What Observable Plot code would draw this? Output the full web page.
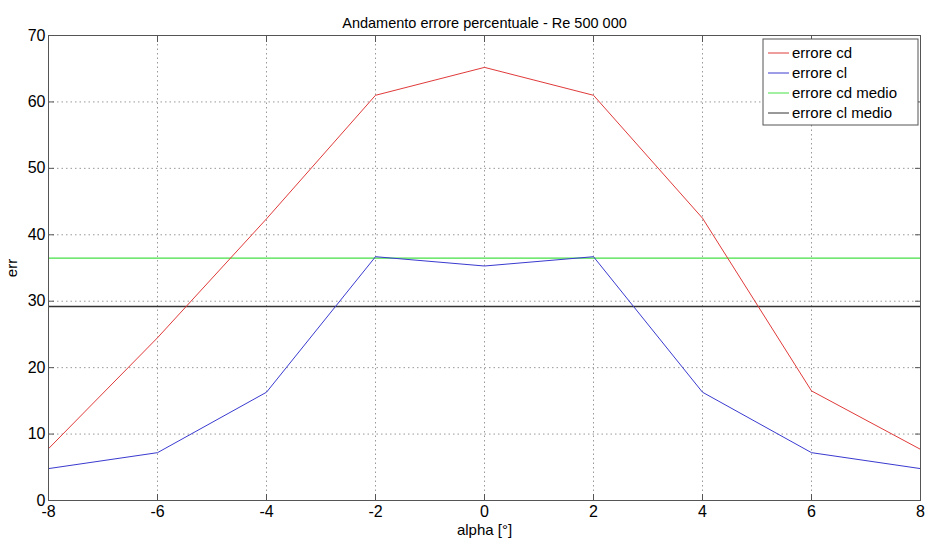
<!DOCTYPE html>
<html><head><meta charset="utf-8">
<script src="https://cdn.jsdelivr.net/npm/d3@7"></script>
<script src="https://cdn.jsdelivr.net/npm/@observablehq/plot@0.6"></script>
<style>body{margin:0;background:#fff;font-family:"Liberation Sans",Arial,sans-serif}</style>
</head><body><div id="chart"></div>
<script>
const alpha = [-8, -6, -4, -2, 0, 2, 4, 6, 8];
const errCd = [7.8, 24.5, 42.4, 61.0, 65.2, 61.0, 42.5, 16.5, 7.7];
const errCl = [4.8, 7.2, 16.3, 36.7, 35.3, 36.7, 16.3, 7.2, 4.8];
const errCdMedio = 36.5;
const errClMedio = 29.2;
const xTicks = [-8, -6, -4, -2, 0, 2, 4, 6, 8];
const yTicks = [0, 10, 20, 30, 40, 50, 60, 70];
const seriesNames = ["errore cd", "errore cl", "errore cd medio", "errore cl medio"];
const seriesColors = ["#e03a3a", "#3a3ad0", "#44e044", "#333333"];

const cd = alpha.map((a, i) => ({alpha: a, err: errCd[i]}));
const cl = alpha.map((a, i) => ({alpha: a, err: errCl[i]}));
const fmt = d => String(d);
const blank = () => "";

const plot = Plot.plot({
  width: 929, height: 544,
  marginLeft: 48, marginRight: 9, marginTop: 35, marginBottom: 44,
  style: {fontFamily: '"Liberation Sans", Arial, sans-serif', background: "#fff"},
  x: {domain: [-8, 8]},
  y: {domain: [0, 70]},
  marks: [
    Plot.gridX(xTicks, {stroke: "#999", strokeOpacity: 1, strokeDasharray: "1.5,3"}),
    Plot.gridY(yTicks, {stroke: "#999", strokeOpacity: 1, strokeDasharray: "1.5,3"}),
    Plot.ruleY([errCdMedio], {stroke: seriesColors[2], strokeWidth: 1.2}),
    Plot.ruleY([errClMedio], {stroke: seriesColors[3], strokeWidth: 1.5}),
    Plot.line(cd, {x: "alpha", y: "err", stroke: seriesColors[0], strokeWidth: 1}),
    Plot.line(cl, {x: "alpha", y: "err", stroke: seriesColors[1], strokeWidth: 1}),
    Plot.frame({stroke: "#555", strokeWidth: 1}),
    Plot.axisX(xTicks, {anchor: "bottom", tickSize: -6, tickPadding: 11, fontSize: 16, tickFormat: fmt, stroke: "#555", label: "alpha [°]", labelAnchor: "center", labelArrow: "none", labelOffset: 34, color: "#000"}),
    Plot.axisX(xTicks, {anchor: "top", tickSize: -6, tickFormat: blank, stroke: "#555", label: null}),
    Plot.axisY(yTicks, {anchor: "left", tickSize: -6, tickPadding: 9, fontSize: 16, tickFormat: fmt, stroke: "#555", label: "err", labelAnchor: "center", labelArrow: "none", labelOffset: 42, color: "#000"}),
    Plot.axisY(yTicks, {anchor: "right", tickSize: -6, tickFormat: blank, stroke: "#555", label: null}),
    Plot.text(["Andamento errore percentuale - Re 500 000"], {frameAnchor: "top", dy: -18, fontSize: 14.5, fill: "#000"})
  ]
});

// Legend (MATLAB-style box, top right)
const svg = d3.select(plot);
const xs = plot.scale("x"), ys = plot.scale("y");
const rightPx = xs.apply(8), topPx = ys.apply(70);
const lg = svg.append("g").attr("transform", `translate(${rightPx - 157},${topPx + 4})`).attr("text-anchor", "start");
lg.append("rect").attr("width", 155).attr("height", 86).attr("fill", "#fff").attr("stroke", "#555");
seriesNames.forEach((n, i) => {
  const yy = 14 + i * 20;
  lg.append("line").attr("x1", 5).attr("x2", 26).attr("y1", yy).attr("y2", yy).attr("stroke", seriesColors[i]).attr("stroke-width", 1);
  lg.append("text").attr("x", 29).attr("y", yy).attr("dy", "0.35em").attr("font-size", 15).attr("text-anchor", "start").attr("fill", "#000").text(n);
});
svg.selectAll("g[aria-label='x-axis label'] text, g[aria-label='y-axis label'] text").attr("font-size", 15);
document.getElementById("chart").appendChild(plot);
</script></body></html>
